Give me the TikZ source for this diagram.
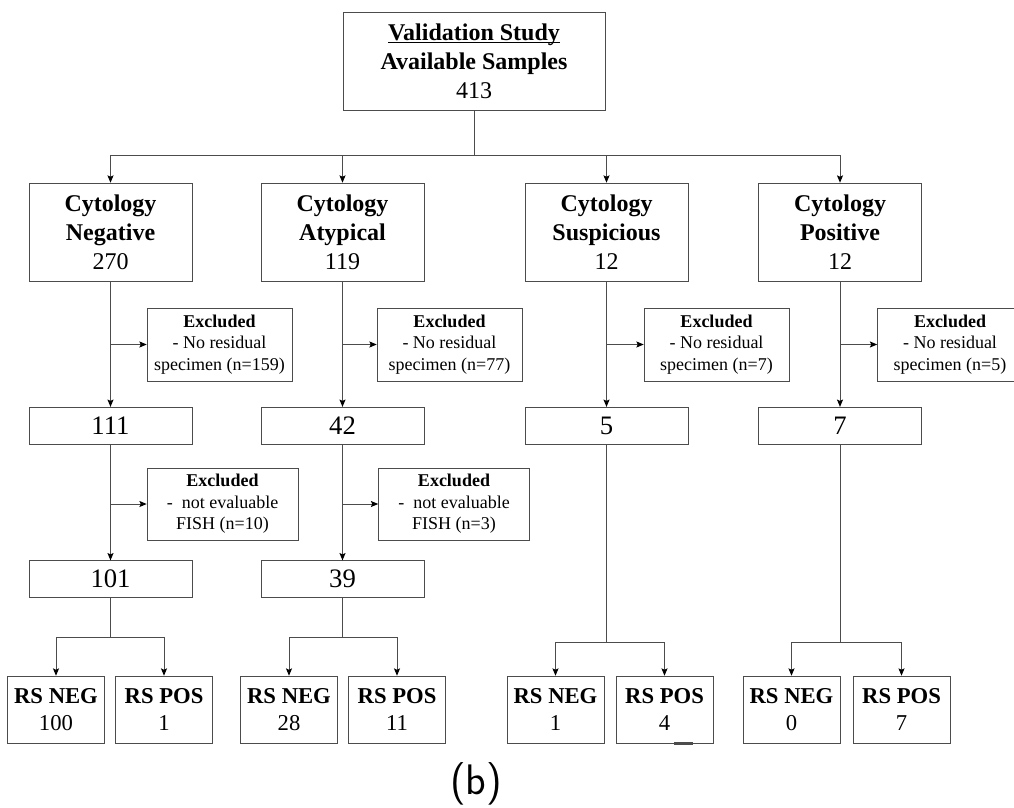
\documentclass[tikz,border=0pt]{standalone}
\usepackage{fontspec}
\setmainfont{Liberation Serif}
\usetikzlibrary{calc}
\usetikzlibrary{arrows.meta}
\newcommand\ulinetext[1]{\setbox0\hbox{#1}\rlap{\rule[-2pt]{\wd0}{0.8pt}}\box0}
\tikzstyle{topbox} = [rectangle,
minimum width=196.5pt,
minimum height=73.5pt,
inner sep=0pt,
text centered,
align=center,
draw=black!70,
font=\fontsize{18}{21.75}\selectfont]
\tikzstyle{catbox} = [rectangle,
minimum width=122.25pt,
minimum height=73.5pt,
inner sep=0pt,
text centered,
align=center,
draw=black!70,
font=\fontsize{18}{21.75}\selectfont]
\tikzstyle{exbox} = [rectangle,
minimum width=108.75pt,
minimum height=54.75pt,
inner sep=0pt,
text centered,
align=center,
draw=black!70,
font=\fontsize{13.5}{16.1}\selectfont]
\tikzstyle{fishbox} = [exbox, minimum width=113.25pt, minimum height=54pt]
\tikzstyle{countbox} = [rectangle,
minimum width=122.25pt,
minimum height=27.5pt,
inner sep=0pt,
text centered,
draw=black!70,
font=\fontsize{20}{24}\selectfont]
\tikzstyle{rsbox} = [rectangle,
minimum width=73pt,
minimum height=50.25pt,
inner sep=0pt,
text centered,
align=center,
draw=black!70,
font=\fontsize{17}{20}\selectfont]
\tikzstyle{line} = [draw=black!70, line width=0.75pt]
\tikzstyle{arrow} = [line, -{Stealth[length=5.5pt, width=4.5pt, inset=1pt, black]}]

\begin{document}
\begin{tikzpicture}[x=0.75pt, y=-0.75pt]
\useasboundingbox (0,0) rectangle (1014,807);
\clip (0,0) rectangle (1014,807);

% top
\node (avail) [topbox] at (474,61) {\ulinetext{\textbf{Validation Study}}\\\textbf{Available Samples}\\413};

% cytology groups
\node (neg) [catbox] at (110.5,232) {\textbf{Cytology}\\\textbf{Negative}\\270};
\node (aty) [catbox] at (342.5,232) {\textbf{Cytology}\\\textbf{Atypical}\\119};
\node (sus) [catbox] at (606.5,232) {\textbf{Cytology}\\\textbf{Suspicious}\\12};
\node (pos) [catbox] at (840,232) {\textbf{Cytology}\\\textbf{Positive}\\12};

% first exclusion
\node (exneg) [exbox] at (219.5,344.5) {\textbf{Excluded}\\- No residual\\specimen (n=159)};
\node (exaty) [exbox] at (449.5,344.5) {\textbf{Excluded}\\- No residual\\specimen (n=77)};
\node (exsus) [exbox] at (716.5,344.5) {\textbf{Excluded}\\- No residual\\specimen (n=7)};
\node (expos) [exbox] at (950,344.5) {\textbf{Excluded}\\- No residual\\specimen (n=5)};

\node (nneg) [countbox] at (110.5,425.5) {111};
\node (naty) [countbox] at (342.5,425.5) {42};
\node (nsus) [countbox] at (606.5,425.5) {5};
\node (npos) [countbox] at (840,425.5) {7};

% second exclusion
\node (fneg) [fishbox] at (222.5,504) {\textbf{Excluded}\\-\ \ not evaluable\\FISH (n=10)};
\node (faty) [fishbox] at (454,504) {\textbf{Excluded}\\-\ \ not evaluable\\FISH (n=3)};

\node (mneg) [countbox] at (110.5,579) {101};
\node (maty) [countbox] at (342.5,579) {39};

% results
\node (rsn1) [rsbox] at (56,709.5) {\textbf{RS NEG}\\100};
\node (rsp1) [rsbox] at (164,709.5) {\textbf{RS POS}\\1};
\node (rsn2) [rsbox] at (289,709.5) {\textbf{RS NEG}\\28};
\node (rsp2) [rsbox] at (397,709.5) {\textbf{RS POS}\\11};
\node (rsn3) [rsbox] at (555.5,709.5) {\textbf{RS NEG}\\1};
\node (rsp3) [rsbox] at (664.5,709.5) {\textbf{RS POS}\\4};
\node (rsn4) [rsbox] at (791.5,709.5) {\textbf{RS NEG}\\0};
\node (rsp4) [rsbox] at (901.5,709.5) {\textbf{RS POS}\\7};

\node (label) [font=\sffamily\fontsize{32}{38}\selectfont, anchor=base] at (476,794) {(b)};

\coordinate (split) at (474,155);
\coordinate (forkneg) at (110.5,637);
\coordinate (forkaty) at (342.5,637);
\coordinate (forksus) at (606.5,642);
\coordinate (forkpos) at (840,642);

\draw [line] (avail) -- (split);
\foreach \c in {neg,aty,sus,pos}
    \draw [arrow] (split) -| (\c);

\foreach \c/\e/\n in {neg/exneg/nneg, aty/exaty/naty, sus/exsus/nsus, pos/expos/npos} {
    \draw [arrow] (\c) -- (\n);
    \draw [arrow] (\c |- \e) -- (\e);
}

\draw [arrow] (nneg) -- (mneg);
\draw [arrow] (nneg |- fneg) -- (fneg);
\draw [arrow] (naty) -- (maty);
\draw [arrow] (naty |- faty) -- (faty);

\foreach \m/\f/\a/\b in {mneg/forkneg/rsn1/rsp1, maty/forkaty/rsn2/rsp2, nsus/forksus/rsn3/rsp3, npos/forkpos/rsn4/rsp4} {
    \draw [line] (\m) -- (\f);
    \draw [arrow] (\f) -| (\a);
    \draw [arrow] (\f) -| (\b);
}

% small mark on the box edge
\draw [line, line width=2pt] ($(rsp3.south east)+(-39,0.5)$) -- ++(19,0);
\end{tikzpicture}
\end{document}
